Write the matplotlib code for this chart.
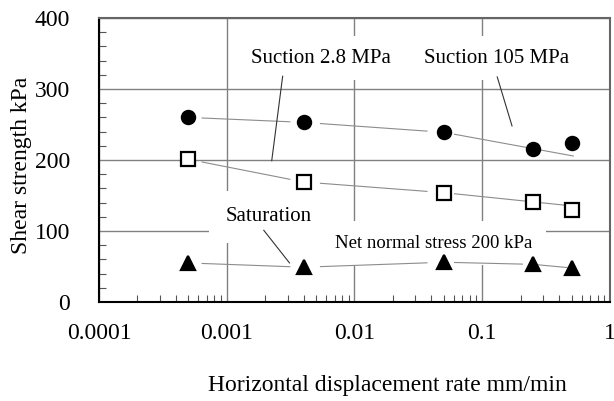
import numpy as np
import matplotlib.pyplot as plt

plt.rcParams['font.family'] = ['Liberation Serif', 'DejaVu Serif']

# Horizontal displacement rate (mm/min)
rate = [0.0005, 0.004, 0.05, 0.25, 0.5]

# Shear strength (kPa)
suction_105 = [260, 253, 239, 216, 224]
suction_2_8 = [201, 169, 154, 141, 130]
saturation = [55, 49, 56, 53, 48]

series = [
    (suction_105, 'o', 'black', 'black'),
    (suction_2_8, 's', 'white', 'black'),
    (saturation, '^', 'black', 'black'),
]

fig = plt.figure(figsize=(6.14, 4.01), dpi=100)
ax = fig.add_axes([0.1612, 0.2469, 0.8323, 0.7082])

ax.set_xscale('log')
ax.set_xlim(0.0001, 1)
ax.set_ylim(0, 400)
ax.set_xticks([0.0001, 0.001, 0.01, 0.1, 1])
ax.set_xticklabels(['0.0001', '0.001', '0.01', '0.1', '1'])
ax.set_yticks([0, 100, 200, 300, 400])
ax.set_yticks(np.arange(0, 401, 20), minor=True)
ax.grid(True, which='major', color='#808080', lw=1.0, zorder=0)
ax.set_axisbelow(True)
ax.tick_params(which='both', direction='in', labelsize=17)
ax.tick_params(which='major', length=0)
ax.tick_params(axis='x', which='major', pad=15)
ax.tick_params(axis='y', which='major', pad=21)
ax.tick_params(which='minor', length=5, width=0.8, color='#555555')

for side in ['left', 'bottom']:
    ax.spines[side].set_linewidth(1.5)
    ax.spines[side].set_color('black')
for side in ['top', 'right']:
    ax.spines[side].set_linewidth(1.5)
    ax.spines[side].set_color('#666666')


def gap_segment(x0, y0, x1, y1, f0, f1):
    lx0, lx1 = np.log10(x0), np.log10(x1)
    a = lx0 + (lx1 - lx0) * f0
    b = lx0 + (lx1 - lx0) * f1
    ya = y0 + (y1 - y0) * f0
    yb = y0 + (y1 - y0) * f1
    return [10 ** a, 10 ** b], [ya, yb]


# thin connecting lines between markers, broken near each point
for vals, m, fc, ec in series:
    n = len(rate)
    for i in range(n - 1):
        if m != '^' and i == n - 2:
            continue
        f1 = 0.88
        if m != '^' and i == n - 3:
            f1 = 1.45
        xs, ys = gap_segment(rate[i], vals[i], rate[i + 1], vals[i + 1], 0.12, f1)
        ax.plot(xs, ys, color='#8c8c8c', lw=0.8, zorder=3.2)

for vals, m, fc, ec in series:
    ms = 10 if m == '^' else 9.5
    ax.plot(rate, vals, linestyle='none', marker=m, markersize=ms,
            markerfacecolor=fc, markeredgecolor=ec, markeredgewidth=1.6, zorder=4)

ax.text(0.0055, 343, 'Suction 2.8 MPa', fontsize=15, ha='center', va='center',
        bbox=dict(facecolor='white', edgecolor='none', boxstyle='square,pad=0.6'), zorder=3)
ax.text(0.129, 343, 'Suction 105 MPa', fontsize=15, ha='center', va='center',
        bbox=dict(facecolor='white', edgecolor='none', boxstyle='square,pad=0.6'), zorder=3)
ax.text(0.00213, 120, 'Saturation', fontsize=15, ha='center', va='center',
        bbox=dict(facecolor='white', edgecolor='none', boxstyle='square,pad=0.8'), zorder=3)
ax.text(0.042, 83, 'Net normal stress 200 kPa', fontsize=13.5, ha='center', va='center',
        bbox=dict(facecolor='white', edgecolor='none', boxstyle='square,pad=0.7'), zorder=3)

# leader lines
ax.plot([0.00274, 0.00225], [318, 199], color='#333333', lw=0.8, zorder=3.5)
ax.plot([0.131, 0.171], [317, 248], color='#333333', lw=0.8, zorder=3.5)
ax.plot([0.00195, 0.0031], [101, 55], color='#333333', lw=0.8, zorder=3.5)

ax.set_ylabel('Shear strength kPa', fontsize=17)
ax.yaxis.set_label_coords(-0.131, 0.482)
ax.set_xlabel('Horizontal displacement rate mm/min', fontsize=17)
ax.xaxis.set_label_coords(0.5636, -0.257)

fig.savefig('out.png', dpi=100)
